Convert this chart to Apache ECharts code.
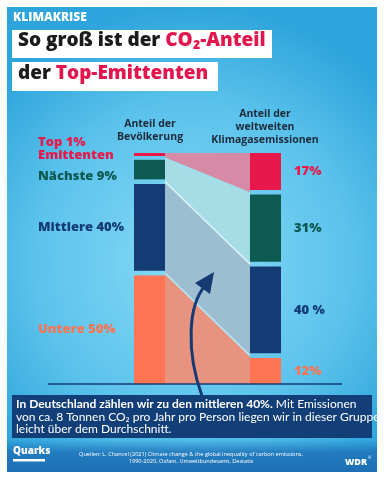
<!DOCTYPE html>
<html><head><meta charset="utf-8">
<script src="https://cdn.jsdelivr.net/npm/echarts@6/dist/echarts.min.js"></script>
<style>html,body{margin:0;padding:0;background:#fff}#c{width:384px;height:480px}</style>
</head><body><div id="c"></div>
<script>
const groups = ['Top 1%', 'Nächste 9%', 'Mittlere 40%', 'Untere 50%'];
const populationShare = [1, 9, 40, 50];
const emissionShare = [17, 31, 40, 12];
const emissionLabels = ['17%', '31%', '40 %', '12%'];
const barColors = ['#e8194a', '#0c5a52', '#143b74', '#ff7452'];
const flowColors = ['#d78aa6', '#a4dde6', '#9dbdd1', '#e8937f'];
const labelColors = ['#e8194a', '#0c5a52', '#143b74', '#ff7452'];

const GAP = 2.15;
const TOTAL = 100 + 3 * GAP;
const BW = 0.211;
const FONT = 'Open Sans';
const FONT2 = 'Lato';

function stack(values) {
  let top = TOTAL;
  return values.map(v => { const s = { hi: top, lo: top - v }; top = top - v - GAP; return s; });
}
const L = stack(populationShare), R = stack(emissionShare);
const barData = [], flowData = [];
groups.forEach((g, i) => {
  barData.push([0, BW, L[i].lo, L[i].hi, i, 0]);
  barData.push([1 - BW, 1, R[i].lo, R[i].hi, i, 1]);
  const n = groups.length;
  const lt = i === 0 ? L[0].hi : (L[i - 1].lo + L[i].hi) / 2;
  const lb = i === n - 1 ? 0 : (L[i].lo + L[i + 1].hi) / 2;
  const rt = i === 0 ? R[0].hi : (R[i - 1].lo + R[i].hi) / 2;
  const rb = i === n - 1 ? 0 : (R[i].lo + R[i + 1].hi) / 2;
  flowData.push([lt, lb, rt, rb, i]);
});

const chart = echarts.init(document.getElementById('c'), null, { renderer: 'canvas' });
const option = {
  animation: false,
  grid: { left: 134, right: 103, top: 153, bottom: 96 },
  xAxis: { type: 'value', min: 0, max: 1, show: false },
  yAxis: { type: 'value', min: 0, max: TOTAL, show: false },
  graphic: [
    { type: 'rect', z: -10, shape: { x: 7, y: 7, width: 370, height: 465 },
      style: { fill: new echarts.graphic.RadialGradient(0.5, 0.55, 0.7, [
        { offset: 0, color: '#8adaf5' }, { offset: 0.6, color: '#5cc3ec' }, { offset: 1, color: '#2ea4dc' }]) } },
    { type: 'rect', z: -9, shape: { x: 7, y: 440, width: 370, height: 32 },
      style: { fill: new echarts.graphic.LinearGradient(0, 0, 0, 1, [
        { offset: 0, color: 'rgba(30,110,180,0)' }, { offset: 0.4, color: 'rgba(30,115,185,0.85)' }, { offset: 1, color: '#1c6fb2' }]) } },
    { type: 'text', left: 13, top: 12, style: { text: 'KLIMAKRISE', fill: '#fff', font: '800 12px "' + FONT + '"' } },
    { type: 'rect', shape: { x: 12, y: 30, width: 260, height: 28 }, style: { fill: '#fff' } },
    { type: 'rect', shape: { x: 12, y: 62, width: 206, height: 29 }, style: { fill: '#fff' } },
    { type: 'text', left: 18, top: 31, style: { text: '{b|So groß ist der }{r|CO₂-Anteil}',
      rich: { b: { fill: '#1b1b1b', font: '800 19px "' + FONT + '"' }, r: { fill: '#e3154d', font: '800 19px "' + FONT + '"' } } } },
    { type: 'text', left: 18, top: 64, style: { text: '{b|der }{r|Top-Emittenten}',
      rich: { b: { fill: '#1b1b1b', font: '800 19px "' + FONT + '"' }, r: { fill: '#e3154d', font: '800 19px "' + FONT + '"' } } } },
    { type: 'text', x: 150, y: 131, style: { text: 'Anteil der\nBevölkerung', align: 'center', verticalAlign: 'middle', lineHeight: 13,
      fill: '#1c2a3a', font: 'bold 10.5px "' + FONT + '"' } },
    { type: 'text', x: 265, y: 127, style: { text: 'Anteil der\nweltweiten\nKlimagasemissionen', align: 'center', verticalAlign: 'middle', lineHeight: 13,
      fill: '#1c2a3a', font: 'bold 10.5px "' + FONT + '"' } },
    { type: 'text', x: 38, y: 149, style: { text: 'Top 1%\nEmittenten', verticalAlign: 'middle', lineHeight: 12.5, fill: labelColors[0], font: '800 13px "' + FONT + '"' } },
    { type: 'text', x: 38, y: 176, style: { text: groups[1], verticalAlign: 'middle', fill: labelColors[1], font: '800 13px "' + FONT + '"' } },
    { type: 'text', x: 38, y: 227, style: { text: groups[2], verticalAlign: 'middle', fill: labelColors[2], font: '800 13px "' + FONT + '"' } },
    { type: 'text', x: 38, y: 329, style: { text: groups[3], verticalAlign: 'middle', fill: labelColors[3], font: '800 13px "' + FONT + '"' } },
    { type: 'line', z: 20, shape: { x1: 48, y1: 384, x2: 342, y2: 384 }, style: { stroke: '#143b74', lineWidth: 1.5 } },
    { type: 'bezierCurve', z: 20, shape: { x1: 202, y1: 396, cpx1: 186, cpy1: 352, cpx2: 188, cpy2: 305, x2: 205, y2: 286 },
      style: { stroke: '#143b74', lineWidth: 3, fill: null } },
    { type: 'polygon', z: 20, shape: { points: [[214, 272], [195, 283], [210, 294]] }, style: { fill: '#143b74' } },
    { type: 'rect', z: 21, shape: { x: 12, y: 395, width: 360, height: 43 }, style: { fill: '#133f78' } },
    { type: 'text', z: 22, left: 16, top: 398, style: {
      text: '{b|In Deutschland zählen wir zu den mittleren 40%.}{n| Mit Emissionen}\n{n|von ca. 8 Tonnen CO₂ pro Jahr pro Person liegen wir in dieser Gruppe}\n{n|leicht über dem Durchschnitt.}',
      lineHeight: 12.5, rich: { b: { fill: '#fff', font: 'bold 12px "' + FONT2 + '"', lineHeight: 12.5 }, n: { fill: '#fff', font: '12px "' + FONT2 + '"', lineHeight: 12.5 } } } },
    { type: 'text', left: 13, top: 446, style: { text: 'Quarks', fill: '#fff', font: '800 10px "' + FONT + '"' } },
    { type: 'rect', shape: { x: 13, y: 459, width: 32, height: 2.5 }, style: { fill: '#fff' } },
    { type: 'text', x: 191, y: 458, style: { text: 'Quellen: L. Chancel (2021) Climate change & the global inequality of carbon emissions,\n1990-2020, Oxfam, Umweltbundesamt, Destatis',
      align: 'center', verticalAlign: 'middle', lineHeight: 7, fill: '#fff', font: '5.6px "' + FONT + '"' } },
    { type: 'text', x: 345, y: 462, style: { text: 'WDR', verticalAlign: 'middle', fill: '#fff', font: '800 9px "' + FONT + '"' } },
    { type: 'text', x: 368, y: 458, style: { text: '®', verticalAlign: 'middle', fill: '#fff', font: '4px "' + FONT + '"' } }
  ],
  series: [
    {
      type: 'custom', z: 1, data: flowData,
      renderItem: function (params, api) {
        const lt = api.coord([BW, api.value(0)]), lb = api.coord([BW, api.value(1)]);
        const rt = api.coord([1 - BW, api.value(2)]), rb = api.coord([1 - BW, api.value(3)]);
        const i = api.value(4);
        const children = [{ type: 'polygon', shape: { points: [lt, rt, rb, lb] }, style: { fill: flowColors[i] } }];
        if (i >= 2) children.push({ type: 'line', shape: { x1: lt[0], y1: lt[1], x2: rt[0], y2: rt[1] },
          style: { stroke: i === 2 ? '#d7f1f7' : '#b6e6f2', lineWidth: 1.6 } });
        return { type: 'group', children: children };
      }
    },
    {
      type: 'custom', z: 2, data: barData,
      renderItem: function (params, api) {
        const p0 = api.coord([api.value(0), api.value(3)]);
        const p1 = api.coord([api.value(1), api.value(2)]);
        const i = api.value(4), side = api.value(5);
        const children = [{ type: 'rect', shape: { x: p0[0], y: p0[1], width: p1[0] - p0[0], height: Math.max(p1[1] - p0[1], 3) },
          style: { fill: barColors[i] } }];
        if (side === 1) children.push({ type: 'text', style: { x: p1[0] + 13, y: (p0[1] + p1[1]) / 2, text: emissionLabels[i],
          verticalAlign: 'middle', fill: labelColors[i], font: '800 13px "' + FONT + '"' } });
        return { type: 'group', children: children };
      }
    }
  ]
};
chart.setOption(option);
</script></body></html>
